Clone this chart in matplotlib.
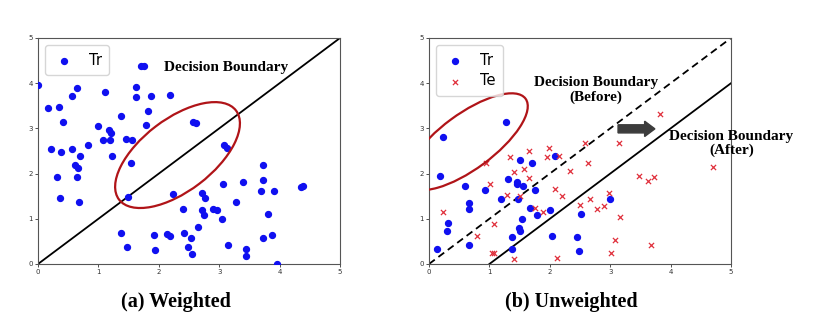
import numpy as np
import matplotlib.pyplot as plt
from matplotlib.patches import Ellipse, FancyArrow
from matplotlib.transforms import ScaledTranslation

#------------------------------ data ------------------------------
# (a) weighted: training points
tr_a_x = [0.00, 0.16, 0.34, 0.41, 0.21, 0.38, 0.32, 0.36, 0.56, 0.69, 0.61, 0.66,
          0.64, 0.68, 0.56, 0.64, 0.82, 0.99, 1.08, 1.11, 1.18, 1.21, 1.19, 1.22,
          1.38, 1.46, 1.56, 1.54, 1.49, 1.62, 1.62, 1.71, 1.75, 1.87, 1.82, 1.78,
          2.18, 2.24, 2.40, 1.38, 1.48, 1.92, 1.93, 2.13, 2.18, 2.42, 2.54, 2.48,
          2.55, 2.65, 2.56, 2.61, 3.08, 3.13, 3.72, 3.72, 3.39, 3.07, 3.69, 3.90,
          4.36, 4.39, 2.72, 2.76, 3.28, 2.72, 2.75, 2.89, 2.96, 3.04, 3.80, 3.15,
          3.45, 3.44, 3.72, 3.87, 3.95]
tr_a_y = [3.95, 3.45, 3.47, 3.15, 2.54, 2.47, 1.92, 1.47, 2.54, 2.40, 2.18, 2.12,
          1.92, 1.37, 3.72, 3.89, 2.63, 3.05, 2.75, 3.81, 2.97, 2.90, 2.75, 2.39,
          3.28, 2.77, 2.74, 2.23, 1.49, 3.91, 3.70, 4.37, 4.39, 3.72, 3.39, 3.08,
          3.73, 1.54, 1.22, 0.69, 0.37, 0.64, 0.32, 0.67, 0.61, 0.69, 0.58, 0.38,
          0.23, 0.82, 3.15, 3.11, 2.63, 2.57, 2.18, 1.86, 1.81, 1.77, 1.62, 1.62,
          1.70, 1.73, 1.56, 1.46, 1.38, 1.20, 1.09, 1.21, 1.19, 1.00, 1.11, 0.41,
          0.34, 0.17, 0.58, 0.64, 0.00]

# (b) unweighted: training points
tr_b_x = [0.23, 0.18, 1.28, 0.13, 0.31, 0.29, 0.59, 0.67, 0.66, 0.67, 0.92, 1.19,
          1.30, 1.37, 1.37, 1.45, 1.46, 1.47, 1.51, 1.49, 1.50, 1.54, 1.56, 1.70,
          1.68, 1.76, 1.78, 2.00, 2.03, 2.08, 2.45, 2.48, 2.51, 3.00]
tr_b_y = [2.80, 1.94, 3.15, 0.33, 0.91, 0.74, 1.73, 1.35, 1.22, 0.43, 1.63, 1.44,
          1.89, 0.59, 0.34, 1.76, 1.81, 1.44, 2.30, 0.79, 0.72, 1.00, 1.72, 2.23,
          1.25, 1.64, 1.08, 1.19, 0.61, 2.40, 0.59, 0.28, 1.11, 1.44]

# (b) unweighted: test points
te_b_x = [0.94, 0.24, 1.01, 0.80, 1.08, 1.04, 1.07, 1.29, 1.34, 1.41, 1.41, 1.51,
          1.58, 1.65, 1.66, 1.75, 1.88, 1.98, 1.96, 2.16, 2.09, 2.20, 2.12, 2.33,
          2.50, 2.59, 2.64, 3.14, 3.82, 3.48, 3.63, 3.73, 4.71, 2.66, 2.78, 2.89,
          2.98, 3.17, 3.08, 3.01, 3.68]
te_b_y = [2.23, 1.15, 1.78, 0.61, 0.89, 0.25, 0.25, 1.52, 2.36, 2.04, 0.10, 1.50,
          2.11, 2.50, 1.90, 1.25, 1.16, 2.57, 2.37, 2.40, 1.65, 1.50, 0.13, 2.05,
          1.31, 2.68, 2.24, 2.68, 3.31, 1.95, 1.84, 1.92, 2.15, 1.44, 1.22, 1.28,
          1.56, 1.03, 0.53, 0.24, 0.41]

# decision boundaries y = x + offset
bound_a = 0.0
bound_before = 0.0
bound_after = -1.0

#------------------------------ styles ------------------------------
blue = '#1010f0'
red = '#e0303c'
ring = '#b01418'
serif = ['Liberation Serif', 'DejaVu Serif']

fig = plt.figure(figsize=(8.19, 3.35), dpi=100)
ax1 = fig.add_axes((38 / 819, 71 / 335, 302 / 819, 226 / 335))
ax2 = fig.add_axes((429 / 819, 71 / 335, 302 / 819, 226 / 335))


def setup(ax):
    ax.set_xlim(0, 5)
    ax.set_ylim(0, 5)
    ax.set_xticks(range(6))
    ax.set_yticks(range(6))
    ax.tick_params(labelsize=5, length=2, width=0.6, pad=1.5, colors='#333333')
    for sp in ax.spines.values():
        sp.set_linewidth(0.8)
        sp.set_color('#555555')


def boundary(ax, offset, **kw):
    # line y = x + offset, clipped to the 0..5 box
    x0 = max(0., -offset)
    xs = np.array([x0, 5.])
    ax.plot(xs, xs + offset, color='black', lw=1.3, zorder=2, **kw)


def ring_around(ax, cx, cy, w, h, angle):
    # ellipse sized in inches, centred on a data point
    tr = fig.dpi_scale_trans + ScaledTranslation(cx, cy, ax.transData)
    e = Ellipse((0, 0), w, h, angle=angle, fill=False, edgecolor=ring,
                linewidth=1.6, transform=tr, zorder=4)
    ax.add_patch(e)


def add_legend(ax):
    ax.legend(loc='upper left', fontsize=10.5, handletextpad=0.9,
              borderpad=0.5, handlelength=1.6, scatterpoints=1,
              labelspacing=0.4, borderaxespad=0.5)


# (a) weighted
setup(ax1)
ax1.scatter(tr_a_x, tr_a_y, s=18, color=blue, label='Tr', zorder=3)
boundary(ax1, bound_a)
ring_around(ax1, 2.31, 2.41, 1.47, 0.72, 37.3)
ax1.text(3.11, 4.34, 'Decision Boundary', family=serif, weight='bold',
         fontsize=11, ha='center', va='center')
add_legend(ax1)

# (b) unweighted
setup(ax2)
ax2.scatter(tr_b_x, tr_b_y, s=18, color=blue, label='Tr', zorder=3)
ax2.scatter(te_b_x, te_b_y, s=14, marker='x', color=red, linewidths=0.9,
            label='Te', zorder=3)
boundary(ax2, bound_before, ls=(0, (4, 2.5)))
boundary(ax2, bound_after)
ring_around(ax2, 0.632, 2.706, 1.45, 0.55, 36.4)
ax2.add_patch(FancyArrow(3.13, 2.99, 0.61, 0, width=0.18, head_width=0.34,
                         head_length=0.17, length_includes_head=True,
                         color='#3c3c3c', zorder=5))
ax2.text(2.76, 3.85, 'Decision Boundary\n(Before)', family=serif, weight='bold',
         fontsize=11, ha='center', va='center', multialignment='center',
         linespacing=1.1)
ax2.text(5.005, 2.67, 'Decision Boundary\n(After)', family=serif, weight='bold',
         fontsize=11, ha='center', va='center', multialignment='center',
         linespacing=1.1, zorder=6)
add_legend(ax2)

fig.text(176 / 819, 1 - 302 / 335, '(a) Weighted', family=serif, weight='bold',
         fontsize=14.5, ha='center', va='center')
fig.text(571 / 819, 1 - 302 / 335, '(b) Unweighted', family=serif, weight='bold',
         fontsize=14.5, ha='center', va='center')

fig.savefig('out.png', dpi=100)
